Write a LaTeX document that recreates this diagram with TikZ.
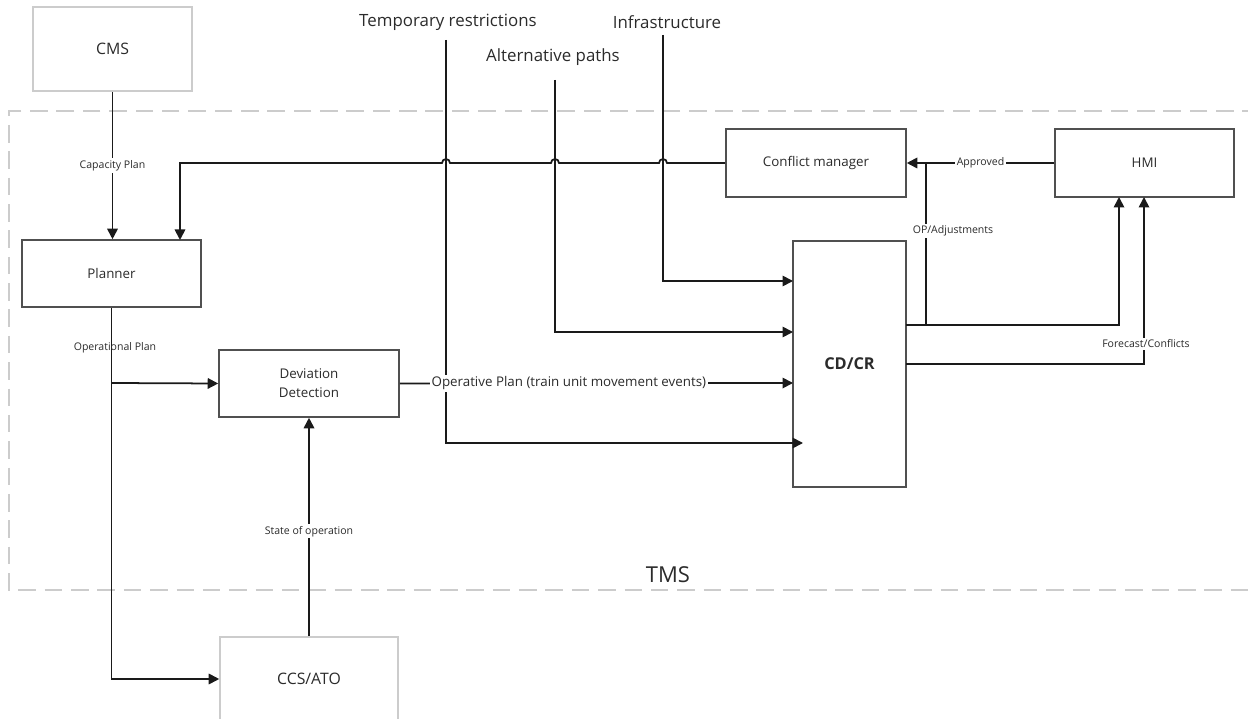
\documentclass[tikz,border=0pt]{standalone}
\usepackage{fontspec}
\setmainfont{Open Sans}
\usetikzlibrary{arrows.meta}
\definecolor{ink}{HTML}{1A1A1A}
\definecolor{boxline}{HTML}{505050}
\definecolor{softline}{HTML}{CCCCCC}
\definecolor{txt}{HTML}{2B2B2B}

\begin{document}
\begin{tikzpicture}[x=0.02cm,y=-0.02cm,
  block/.style={draw=boxline, line width=0.9pt, fill=white, text=txt,
    font=\fontsize{7.6}{10.8}\selectfont, align=center, inner sep=0pt},
  extblock/.style={draw=softline, line width=0.9pt, fill=white, text=txt,
    font=\fontsize{9}{11}\selectfont, inner sep=0pt},
  flow/.style={draw=ink, line width=1pt, -{Triangle[length=0.21cm,width=0.21cm]}},
  wire/.style={draw=ink, line width=1pt},
  tag/.style={text=txt, font=\fontsize{6}{7}\selectfont, inner sep=1pt},
  tagw/.style={tag, fill=white},
  feed/.style={text=txt, font=\fontsize{9.6}{12}\selectfont, inner sep=0pt},
]
\useasboundingbox (0,0) rectangle (1248,719);

% TMS boundary (open on the right)
\draw[softline, line width=0.8pt, dash pattern=on 10pt off 5pt]
  (1260,111) -- (9,111) -- (9,590) -- (1260,590);
\node[text=txt, font=\fontsize{12.5}{14}\selectfont] (tms) at (668,575) {TMS};

% blocks
\node[extblock, minimum width=3.18cm, minimum height=1.68cm] (cms) at (112.5,49) {CMS};
\node[block, minimum width=3.58cm, minimum height=1.34cm] (planner) at (111.5,273.5) {Planner};
\node[block, minimum width=3.6cm, minimum height=1.36cm] (conf) at (816,163) {Conflict manager};
\node[block, minimum width=3.58cm, minimum height=1.36cm] (hmi) at (1144.5,163) {HMI};
\node[block, minimum width=3.6cm, minimum height=1.34cm] (dev) at (309,383.5) {Deviation\\Detection};
\node[block, minimum width=2.26cm, minimum height=4.92cm,
  font=\fontsize{9.3}{11}\selectfont\bfseries] (cdcr) at (849.5,364) {CD/CR};
\node[extblock, minimum width=3.56cm, minimum height=1.68cm] (ccs) at (309,679) {CCS/ATO};

% external feeds
\node[feed] (tr) at (448,22) {Temporary restrictions};
\node[feed] (alt) at (553,57) {Alternative paths};
\node[feed] (infra) at (667,22) {Infrastructure};

% ports
\coordinate (tr-top) at (446,40);
\coordinate (alt-top) at (555,80);
\coordinate (inf-top) at (663,35);
\coordinate (cd-in1) at (793,281);
\coordinate (cd-in2) at (793,332);
\coordinate (cd-in3) at (793,383);
\coordinate (cd-in4) at (803,443);
\coordinate (cd-op) at (906,325);
\coordinate (cd-fc) at (906,364);
\coordinate (op-j) at (926,325);
\coordinate (op-top) at (926,163);
\coordinate (hmi-a) at (1119,197);
\coordinate (hmi-b) at (1144,197);
\coordinate (plan-in) at (180,240);
\coordinate (plan-split) at (111.5,383);

% feed lines into CD/CR
\draw[flow] (tr-top) |- (cd-in4);
\draw[flow] (alt-top) |- (cd-in2);
\draw[flow] (inf-top) |- (cd-in1);

% conflict manager back to planner, hopping over the feeds
\draw[flow] (conf.west) -- (667,163)
  arc[start angle=0, end angle=180, radius=0.08cm] -- (559,163)
  arc[start angle=0, end angle=180, radius=0.08cm] -- (450,163)
  arc[start angle=0, end angle=180, radius=0.08cm] -- (180,163) -- (plan-in);

% CMS to planner
\draw[flow] (cms.south) -- (cms.south |- planner.north)
  node[tagw, pos=0.5] {Capacity Plan};

% planner outputs
\draw[flow] (planner.south) |- (ccs.west);
\draw[flow] (plan-split) -- (dev.west);
\node[tag] (oplab) at (115,348) {Operational Plan};

% state of operation
\draw[flow] (ccs.north) -- (dev.south) node[tagw, pos=0.48] {State of operation};

% operative plan
\draw[flow] (dev.east) -- (cd-in3)
  node[pos=0.43, fill=white, text=txt, font=\fontsize{7.6}{9}\selectfont, inner sep=1pt]
  {Operative Plan (train unit movement events)};

% CD/CR outputs
\draw[flow] (cd-op) -| (hmi-a);
\draw[flow] (cd-fc) -| (hmi-b);
\node[tagw] (fclab) at (1146,344) {Forecast/Conflicts};
\draw[wire] (op-j) -- (op-top);
\node[tagw] (oplab2) at (953,231) {OP/Adjustments};

% approval from HMI
\draw[flow] (hmi.west) -- (conf.east) node[tagw, pos=0.5] {Approved};

\end{tikzpicture}
\end{document}
